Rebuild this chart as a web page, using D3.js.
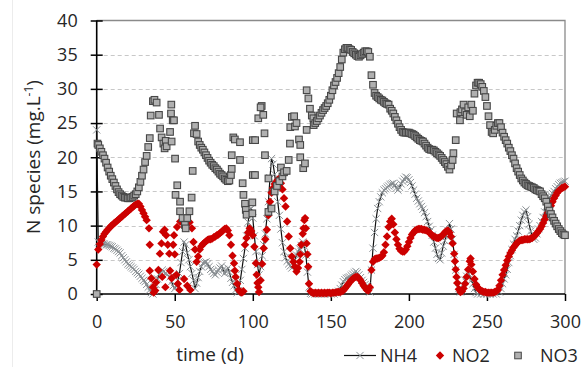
<!DOCTYPE html>
<html><head><meta charset="utf-8">
<script src="https://cdn.jsdelivr.net/npm/d3@7"></script>
<style>
body{margin:0;background:#fff;}
text{font-family:"Open Sans",sans-serif;fill:#262626;}
</style></head>
<body><svg id="c" width="582" height="367"></svg>
<script>
const xTicks=[0,50,100,150,200,250,300];
const yTicks=[0,5,10,15,20,25,30,35,40];
const seriesNames=["NH4","NO2","NO3"];

const nh4=[[0,24],[1,7.6],[2,7.5],[3,7.4],[4,7.3],[5,7.3],[6,7.2],[7,7.2],[8,7.1],[9,7.0],[10,6.9],[11,6.7],[12,6.6],[13,6.4],[14,6.2],[15,6.0],[16,5.6],[17,5.3],[18,5.0],[19,4.7],[20,4.4],[21,4.2],[22,4.0],[23,3.8],[24,3.6],[25,3.3],[26,3.1],[27,2.9],[28,2.6],[29,2.3],[30,2.0],[31,1.8],[32,1.4],[33,1.0],[34,0.6],[35,0.2],[36,0.0],[37,0.5],[38,1.4],[39,2.2],[40,2.9],[42,3.5],[43,3.3],[44,3.0],[45,2.8],[47,2.5],[48,1.8],[49,1.2],[50,0.8],[51,1.2],[52,2.0],[53,3.0],[54,4.6],[55,6.2],[56,7.6],[57,7.2],[58,6.0],[59,5.0],[60,4.0],[61,3.0],[62,2.0],[63,0.8],[64,1.6],[65,2.4],[66,3.3],[67,4.0],[68,4.5],[69,4.6],[70,4.7],[71,4.4],[72,4.0],[73,3.6],[74,3.3],[75,3.0],[76,2.8],[77,3.2],[78,3.5],[79,3.8],[80,4.1],[81,3.6],[82,3.0],[83,3.4],[84,3.8],[85,3.2],[86,2.3],[87,1.7],[88,1.2],[89,0.6],[90,0.2],[91,0.5],[92,2.0],[93,3.6],[94,5.2],[95,6.7],[96,8.5],[97,10.5],[98,12.3],[99,12.5],[100,11.1],[101,8.5],[102,6.2],[103,4.3],[104,2.8],[105,4.0],[106,5.6],[107,7.2],[108,8.8],[109,11.0],[110,13.5],[111,17.0],[112,19.8],[113,19.0],[114,17.5],[115,15.5],[116,13.5],[117,11.5],[118,9.5],[119,7.5],[120,6.2],[121,5.3],[122,4.8],[123,4.4],[124,4.1],[125,3.8],[126,4.3],[127,5.0],[128,5.7],[129,6.2],[130,6.6],[131,7.1],[132,7.6],[133,7.0],[134,5.7],[135,3.2],[136,1.0],[137,0.1],[138,0],[140,0],[142,0],[144,0],[146,0],[148,0],[150,0],[152,0],[154,0.1],[155,0.4],[156,0.8],[157,1.3],[158,1.8],[159,2.1],[160,2.3],[161,2.4],[162,2.5],[163,2.7],[164,2.9],[165,3.1],[166,3.3],[167,3.1],[168,2.8],[169,2.4],[170,2.0],[171,1.7],[172,1.4],[173,1.2],[174,1.0],[175,0.3],[176,3.5],[177,6.7],[178,9.0],[179,11.0],[180,12.5],[181,13.5],[182,14.2],[183,14.8],[184,15.2],[185,15.4],[186,15.6],[187,15.8],[188,16.0],[189,16.1],[190,16.2],[191,15.9],[192,15.5],[193,15.2],[194,15.6],[195,16.1],[196,16.5],[197,16.8],[198,17.1],[199,17.0],[200,16.7],[201,16.3],[202,15.8],[203,15.2],[204,14.6],[205,14.0],[206,13.6],[207,13.2],[208,12.8],[209,12.4],[210,11.9],[211,11.3],[212,10.6],[213,9.9],[214,9.3],[215,8.6],[216,7.6],[217,6.7],[218,5.8],[219,5.2],[220,5.0],[221,6.0],[222,7.0],[223,7.8],[224,8.5],[225,9.3],[226,10.3],[227,9.5],[228,8.0],[229,5.8],[230,3.5],[231,2.0],[232,0.8],[233,0.3],[234,0.6],[235,1.3],[236,2.0],[237,2.6],[238,3.0],[239,2.6],[240,2.0],[241,1.5],[242,0.8],[243,0.2],[244,0],[246,0],[248,0],[250,0],[252,0],[254,0],[256,0],[258,0.3],[259,0.8],[260,1.5],[261,2.2],[262,2.8],[263,3.6],[264,4.6],[265,5.6],[266,6.5],[267,7.3],[268,8.0],[269,8.5],[270,9.2],[271,10.0],[272,10.8],[273,11.5],[274,12.0],[275,12.3],[276,11.3],[277,10.2],[278,9.2],[279,8.5],[280,8.0],[281,8.2],[282,8.8],[283,9.5],[284,10.0],[285,10.6],[286,11.2],[287,12.0],[288,12.8],[289,13.6],[290,14.0],[291,14.4],[292,14.7],[293,15.0],[294,15.4],[295,15.7],[296,16.0],[297,16.2],[298,16.3],[299,16.4],[300,16.5]];

const no2=[[0,4.3],[1,6.5],[2,7.3],[3,7.9],[4,8.4],[5,8.8],[6,9.1],[7,9.4],[8,9.6],[9,9.9],[10,10.1],[11,10.3],[12,10.5],[13,10.7],[14,10.9],[15,11.1],[16,11.3],[17,11.5],[18,11.7],[19,11.9],[20,12.1],[21,12.3],[22,12.5],[23,12.7],[24,12.9],[25,13.1],[26,13.2],[27,13.2],[28,12.8],[29,12.3],[30,11.8],[31,11.3],[32,10.8],
[33.5,9.6],[34,7.2],[34,3.4],[35,2.3],[36,1.0],[36.5,0.2],[37.5,0.5],[38,1.7],[39.5,3.5],[40.5,5.9],[41.5,7.4],[42.5,9.1],[43.5,9.4],[44.5,8.6],[45.5,7.2],[46.5,5.9],[47,3.4],[48,2.3],[49,7.2],[49.5,8.6],[50,5.8],[51,2.8],[52,1.5],[53,0.6],[51.5,9.8],[53.5,10.6],[55.5,10.6],[57.5,10.8],[59.5,10.5],[61,9.6],[62,7.6],[56,2.2],[58,1.2],[60,0.6],[42,2.5],[44,1.0],
[63,6.5],[64,4.7],[65,5.5],[66,6.5],[67,7.0],[68,7.3],[69,7.5],[70,7.7],[71,7.9],[72,8.0],[73,8.0],[74,8.1],[75,8.3],[76,8.4],[77,8.6],[78,8.7],[79,8.9],[80,9.1],[81,9.3],[82,9.5],[83,9.6],[84,9.3],[85,8.6],[86,7.2],[87,5.6],[88,4.5],[88.5,3.4],[89,2.5],[90,1.5],[91,0.6],[92,0.3],[93,0.2],[94,0.4],[95,7.2],[96,8.2],[97,9.0],[98,9.6],[99,9.2],[100,8.6],[101,6.9],[102,4.5],[102.5,2.8],[103,1.6],[103.5,1.0],[104,0.3],[105,2.0],[106,4.4],[107,6.7],[108,8.0],[109,9.4],[110,11.5],[111,13.5],[112,14.8],[113,15.5],[114,16.1],[115,16.4],[116,16.7],[117,16.9],[118,16.2],[119,15.3],[120,14.0],[121,12.8],[122,10.6],[123,8.4],[124,6.7],[125,5.5],[126,4.7],[127,4.0],[128,3.3],[129,3.8],[130,4.7],[130.5,5.8],[131,7.2],[132,8.8],[132.5,9.6],[133,10.8],[133.5,11.1],[134,9.6],[134.5,7.4],[135,5.8],[135.5,4.0],[136,1.5],[137,0.4],
[138,0.2],[139,0.1],[140,0.2],[141,0.1],[142,0.2],[143,0.1],[144,0.2],[145,0.1],[146,0.2],[147,0.1],[148,0.2],[149,0.2],[150,0.1],[151,0.2],[152,0.2],[153,0.2],[154,0.3],[155,0.3],[156,0.3],[157,0.4],[158,0.5],[159,0.8],[160,1.1],[161,1.4],[162,1.7],[163,2.0],[164,2.2],[165,2.4],[166,2.5],[167,2.5],[168,2.3],[169,2.0],[170,1.6],[171,1.2],[172,0.9],[173,0.6],[174,0.5],[175,1.0],[176,3.5],[177,4.7],[178,5.1],[179,5.2],[180,5.2],[181,5.3],[182,5.4],[183,5.6],[184,6.1],[185,7.2],[186,8.4],[187,9.8],[188,10.6],[189,11.0],[190,10.2],[191,9.0],[192,8.0],[193,7.2],[194,6.6],[195,6.3],[196,6.2],[197,6.2],[198,6.5],[199,7.0],[200,7.6],[201,8.2],[202,8.7],[203,9.0],[204,9.3],[205,9.4],[206,9.5],[207,9.5],[208,9.5],[209,9.4],[210,9.4],[211,9.3],[212,9.2],[213,9.0],[214,8.8],[215,8.5],[216,8.4],[217,8.3],[218,8.2],[219,8.2],[220,8.3],[221,8.5],[222,8.7],[223,9.0],[224,9.2],[225,9.3],[226,9.0],[227,8.4],[228,7.4],[229,5.9],[229.5,4.8],[230,3.6],[230.5,2.5],[231,1.6],[232,0.7],[233,0.3],[234,0.4],[235,0.8],[236,1.5],[237,2.5],[238,3.6],[239,4.8],[239.5,5.2],[240,4.3],[241,3.3],[242,2.2],[243,1.4],[244,1.0],[245,0.7],[246,0.5],[247,0.4],[248,0.3],[249,0.3],[250,0.2],[251,0.2],[252,0.2],[253,0.2],[254,0.2],[255,0.3],[256,0.4],[257,0.6],[258,1.2],[259,2.0],[260,2.8],[261,3.5],[262,4.2],[263,4.9],[264,5.5],[265,6.0],[266,6.4],[267,6.8],[268,7.1],[269,7.4],[270,7.6],[271,7.8],[272,7.9],[273,7.9],[274,8.0],[275,8.0],[276,8.0],[277,8.0],[278,8.1],[279,8.2],[280,8.4],[281,8.6],[282,8.9],[283,9.2],[284,9.5],[285,9.9],[286,10.4],[287,10.9],[288,11.4],[289,11.9],[290,12.3],[291,12.9],[292,13.5],[293,14.0],[294,14.4],[295,14.8],[296,15.1],[297,15.3],[298,15.5],[299,15.6],[300,15.7]];

const no3=[[0,0],[0.5,22.0],[1,21.8],[2,21.3],[3,20.8],[4,20.3],[5,19.8],[6,19.2],[7,18.5],[8,17.9],[9,17.3],[10,16.8],[11,16.3],[12,15.8],[13,15.3],[14,14.9],[15,14.6],[16,14.4],[17,14.2],[18,14.1],[19,14.1],[20,14.0],[21,14.0],[22,14.1],[23,14.2],[24,14.4],[25,14.6],[26,15.0],[27,15.6],[28,16.4],[29,17.3],[30,18.2],[31,19.3],[32,20.2],[33,21.5],[34,22.8],
[36,28.2],[37,28.4],[38.4,28.0],[34.6,26.1],[39.9,26.2],[40.6,24.2],[41.6,22.9],[42.7,22.0],[43.5,21.3],[44.2,22.4],[44.8,21.6],[47,23.7],[47.6,26.4],[47.8,27.7],[48.7,25.4],[48,22.3],[49.5,25.4],[50.2,19.8],[51.6,15.9],[50.5,14.5],[53.4,13.5],[53.4,12.1],[55,11.1],[56.5,10.1],[57,9.6],[58,11.1],[59.4,12.1],[60.8,14.1],[61.5,18.0],[62.3,23.5],
[63,24.6],[64,23.4],[65,22.3],[66,21.8],[67,21.4],[68,21.1],[69,20.7],[70,20.3],[71,19.9],[72,19.5],[73,19.2],[74,18.9],[75,18.7],[76,18.4],[77,18.2],[78,17.9],[79,17.6],[80,17.4],[81,17.2],[82,16.9],[83,16.7],[84,16.5],[85,16.6],[86,17.4],[86.5,18.3],
[87.5,22.9],[88.5,22.6],[91.8,22.2],[86.5,20.3],[91.8,19.6],[93.5,16.2],[94,14.5],[95,13.2],[95.5,12.3],[96,11.6],[100,22.5],[100,17.4],[99.7,13.4],[99.7,11.8],
[101.5,22.5],[103.5,25.7],[105.7,27.5],[106.7,26.2],[105,27.3],[107.5,23.5],[107.8,20.3],[101.4,17.4],[110,16.9],[110,12.0],[112,12.5],[114,15.0],[115.5,15.8],[117,16.5],[118,18.5],[119,17.2],[120,17.8],[121.7,18.0],[123,19.6],[123.8,22.0],[124,24.4],[125,25.9],[126.5,26.0],[127,24.5],[128,25.0],[129.6,22.6],[130.4,21.8],[130.4,20.0],[132.3,18.4],[133.4,19.1],[134.5,24.0],[134.5,29.8],[135.6,28.6],[136.6,27.1],[137.8,26.1],[138.8,25.7],
[139,24.7],[140,25.0],[141,25.3],[142,25.7],[143,26.1],[144,26.5],[145,26.9],[146,27.2],[147,27.5],[148,27.9],[149,28.4],[150,29.0],[151,29.8],[152,30.5],[153,31.0],[154,31.6],[155,32.3],[156,33.2],[157,34.3],[158,35.3],[159,35.8],[160,36.0],[161,36.0],[162,35.8],[163,35.7],[164,35.4],[165,35.2],[166,35.0],[167,34.8],[168,34.7],[169,34.9],[170,35.1],[171,35.3],[172,35.5],[173,35.5],[174,35.4],[175,34.7],[176,32.0],[177,30.6],[178,29.4],[179,29.0],[180,28.8],[181,28.6],[182,28.4],[183,28.3],[184,28.1],[185,27.9],[186,27.8],[187,27.7],[188,27.1],[189,26.8],[190,26.4],[191,25.9],[192,25.4],[193,24.9],[194,24.4],[195,24.0],[196,23.7],[197,23.6],[198,23.6],[199,23.6],[200,23.6],[201,23.5],[202,23.4],[203,23.3],[204,23.1],[205,22.9],[206,22.7],[207,22.5],[208,22.4],[209,22.3],[210,22.0],[211,21.7],[212,21.4],[213,21.2],[214,21.1],[215,21.1],[216,21.0],[217,20.8],[218,20.6],[219,20.4],[220,20.2],[221,19.9],[222,19.6],[223,19.3],[224,19.0],[225,18.6],[226,18.2],[227,18.8],[228,19.6],[228.5,20.6],[230,22.5],
[230.6,26.4],[232.7,25.4],[233,26.6],[234,27.0],[235,27.7],[236,26.6],[237,26.2],[238,27.3],[239,26.0],[240,27.7],[241,26.8],
[242,29.3],[243,30.5],[244,30.9],[245,30.9],[246,30.7],[247,30.3],[248,29.7],[249,28.8],[250,27.5],[251,26.0],[252,24.7],[253,23.7],[254,23.5],[255,24.0],[256,24.6],[257,25.0],[258,25.0],[259,24.4],[260,23.6],[261,23.0],[262,22.5],[263,22.0],[264,21.4],[265,20.9],[266,20.3],[267,19.8],[268,19.1],[269,18.4],[270,17.9],[271,17.4],[272,16.9],[273,16.6],[274,16.3],[275,16.1],[276,15.9],[277,15.8],[278,15.7],[279,15.6],[280,15.5],[281,15.3],[282,15.2],[283,15.1],[284,15.0],[285,14.6],[286,14.3],[287,14.0],[288,13.5],[289,12.8],[290,12.2],[291,11.7],[292,11.2],[293,10.7],[294,10.3],[295,9.9],[296,9.5],[297,9.2],[298,8.9],[299,8.7],[300,8.6]];

const svg=d3.select("#c");
const x=d3.scaleLinear().domain([0,300]).range([96.7,565]);
const y=d3.scaleLinear().domain([0,40]).range([294,20.5]);

svg.append("line").attr("x1",12.5).attr("x2",12.5).attr("y1",0).attr("y2",367).attr("stroke","#ececec");

svg.append("g").selectAll("line").data(yTicks.filter(v=>v>0&&v<40)).join("line")
 .attr("x1",x(0)).attr("x2",x(300)).attr("y1",d=>Math.round(y(d))+0.5).attr("y2",d=>Math.round(y(d))+0.5)
 .attr("stroke","#c8c8c8").attr("stroke-width",1).attr("stroke-dasharray","4,3");
svg.append("path").attr("d",`M${x(0)},${y(40)}H${x(300)}V${y(0)}`).attr("fill","none").attr("stroke","#8a8a8a").attr("stroke-width",1.3);

const ax=svg.append("g").attr("transform",`translate(${x(0)},0)`).call(d3.axisLeft(y).tickValues(yTicks).tickSize(6).tickPadding(13));
ax.selectAll(".tick line").attr("x1",6).attr("stroke","#000").attr("stroke-width",1.5);
ax.select(".domain").attr("stroke","#000").attr("stroke-width",1.6).attr("d",`M0,${y(40)}V${y(0)}`);
ax.selectAll("text").attr("font-size",18).attr("fill","#262626");

const bx=svg.append("g").attr("transform",`translate(0,${y(0)})`).call(d3.axisBottom(x).tickValues(xTicks).tickSize(7).tickPadding(14));
bx.selectAll(".tick line").attr("stroke","#000").attr("stroke-width",1.5);
bx.select(".domain").attr("stroke","#000").attr("stroke-width",1.6).attr("d",`M${x(0)},0H${x(300)}`);
bx.selectAll("text").attr("font-size",18).attr("fill","#262626");
svg.selectAll(".tick text").style("font-family","'Open Sans',sans-serif");

const cross=(s)=>`M${-s},${-s}L${s},${s}M${-s},${s}L${s},${-s}`;
const diamond=(s)=>`M0,${-s}L${s},0L0,${s}L${-s},0Z`;

const plot=svg.append("g");
plot.append("path").datum(nh4).attr("d",d3.line().x(d=>x(d[0])).y(d=>y(d[1])))
 .attr("fill","none").attr("stroke","#111").attr("stroke-width",1.2);
plot.append("g").selectAll("path").data(nh4).join("path")
 .attr("transform",d=>`translate(${x(d[0])},${y(d[1])})`).attr("d",cross(3.6))
 .attr("stroke","#8c9296").attr("stroke-width",1).attr("fill","none");
plot.append("g").selectAll("path").data(no2).join("path")
 .attr("transform",d=>`translate(${x(d[0])},${y(d[1])})`).attr("d",diamond(4.2))
 .attr("fill","#cc0000");
plot.append("g").selectAll("rect").data(no3).join("rect")
 .attr("x",d=>x(d[0])-3.3).attr("y",d=>y(d[1])-3.3).attr("width",6.6).attr("height",6.6)
 .attr("fill","#b0b0b0").attr("stroke","#474747").attr("stroke-width",1.1);

svg.append("text").attr("transform","translate(40,157) rotate(-90)").attr("text-anchor","middle")
 .attr("font-size",19).html('N species (mg.L<tspan dy="-7" font-size="12">-1</tspan><tspan dy="7">)</tspan>');
svg.append("text").attr("x",210).attr("y",361).attr("text-anchor","middle").attr("font-size",19).text("time (d)");

const lg=svg.append("g");
lg.append("line").attr("x1",344).attr("x2",376).attr("y1",355.5).attr("y2",355.5).attr("stroke","#111").attr("stroke-width",1.2);
lg.append("path").attr("transform","translate(360,355.5)").attr("d",cross(3.6)).attr("stroke","#8c9296").attr("fill","none");
lg.append("text").attr("x",380).attr("y",362).attr("font-size",18).text(seriesNames[0]);
lg.append("path").attr("transform","translate(440,355.5)").attr("d",diamond(4.2)).attr("fill","#cc0000");
lg.append("text").attr("x",452).attr("y",362).attr("font-size",18).text(seriesNames[1]);
lg.append("rect").attr("x",514.7).attr("y",352.2).attr("width",6.6).attr("height",6.6).attr("fill","#b0b0b0").attr("stroke","#474747");
lg.append("text").attr("x",540).attr("y",362).attr("font-size",18).text(seriesNames[2]);
</script></body></html>
